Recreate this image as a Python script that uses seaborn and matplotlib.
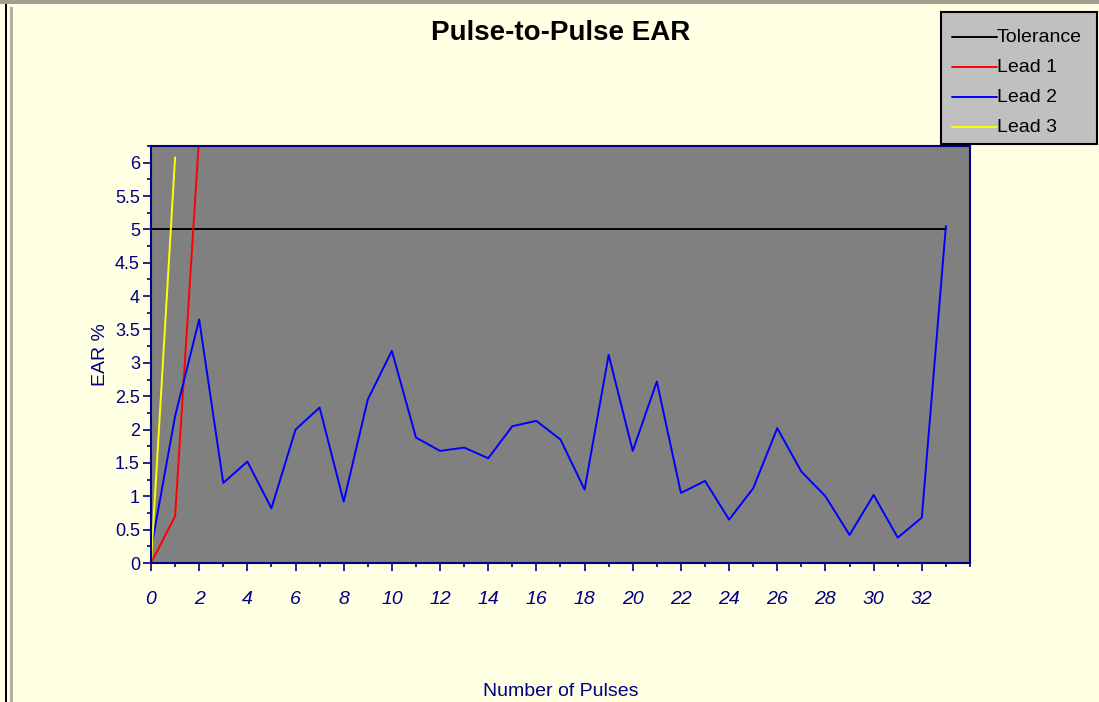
import numpy as np
import pandas as pd
import matplotlib.pyplot as plt
import seaborn as sns
from matplotlib.ticker import MultipleLocator
from matplotlib.patches import Rectangle

# Data

pulses_lead2 = list(range(0, 34))
ear_lead2 = [0.2, 2.2, 3.65, 1.2, 1.52, 0.82, 2.0, 2.33, 0.92, 2.45,
             3.18, 1.88, 1.68, 1.73, 1.57, 2.05, 2.13, 1.85, 1.1, 3.12,
             1.68, 2.72, 1.05, 1.23, 0.65, 1.12, 2.02, 1.37, 1.0, 0.42,
             1.02, 0.38, 0.68, 5.05]

pulses_lead1 = [0, 1, 2]
ear_lead1 = [0.0, 0.7, 6.4]

pulses_lead3 = [0, 1]
ear_lead3 = [0.0, 6.08]

tolerance_x = [0, 33]
tolerance_y = [5, 5]

navy = "#000080"
bg = "#FFFFE3"

df = pd.concat([
    pd.DataFrame({"x": tolerance_x, "y": tolerance_y, "series": "Tolerance"}),
    pd.DataFrame({"x": pulses_lead1, "y": ear_lead1, "series": "Lead 1"}),
    pd.DataFrame({"x": pulses_lead2, "y": ear_lead2, "series": "Lead 2"}),
    pd.DataFrame({"x": pulses_lead3, "y": ear_lead3, "series": "Lead 3"}),
])

palette = {"Tolerance": "#000000", "Lead 1": "#FF0000",
           "Lead 2": "#0000FF", "Lead 3": "#FFFF00"}

sns.set_style("white")
plt.rcParams['font.family'] = ['Liberation Sans', 'DejaVu Sans']

fig = plt.figure(figsize=(10.99, 7.02), dpi=100, facecolor=bg)
ax = fig.add_axes([0.1374, 0.198, 0.7452, 0.594])
ax.set_facecolor("#808080")

sns.lineplot(data=df, x="x", y="y", hue="series", palette=palette,
             sort=False, estimator=None, linewidth=1.4, ax=ax, legend=False)

ax.set_xlim(0, 34)
ax.set_ylim(0, 6.25)

ax.xaxis.set_major_locator(MultipleLocator(2))
ax.xaxis.set_minor_locator(MultipleLocator(1))
ax.yaxis.set_major_locator(MultipleLocator(0.5))
ax.yaxis.set_minor_locator(MultipleLocator(0.25))

ax.set_xticks(range(0, 33, 2))
ax.set_xticklabels([str(v) for v in range(0, 33, 2)], style="italic",
                   fontsize=14, color=navy)
yt = np.arange(0, 6.01, 0.5)
ax.set_yticks(yt)
ax.set_yticklabels([f"{v:g}" for v in yt], fontsize=13, color=navy)

ax.tick_params(axis="both", which="both", bottom=True, left=True,
               top=False, right=False)
ax.tick_params(axis="both", which="major", direction="out", length=6,
               width=1.2, color=navy, pad=2)
ax.tick_params(axis="x", which="major", pad=14)
ax.tick_params(axis="both", which="minor", direction="out", length=3,
               width=1.2, color=navy)

for s in ax.spines.values():
    s.set_color(navy)
    s.set_linewidth(1.5)

ax.set_xlabel("Number of Pulses", fontsize=14, color=navy, labelpad=54)
ax.set_ylabel("EAR %", fontsize=14, color=navy, labelpad=4)

fig.text(0.51, 0.953, "Pulse-to-Pulse EAR", ha="center", va="center",
         fontsize=20, fontweight="bold", color="black")

# Legend box
lx0, ly0, lx1, ly1 = 941 / 1099, 1 - 144 / 702, 1097 / 1099, 1 - 12 / 702
fig.patches.append(Rectangle((lx0, ly0), lx1 - lx0, ly1 - ly0,
                             transform=fig.transFigure, facecolor="#C0C0C0",
                             edgecolor="black", linewidth=1.5))
names = ["Tolerance", "Lead 1", "Lead 2", "Lead 3"]
for i, name in enumerate(names):
    yy = 1 - (37 + i * 30) / 702
    fig.lines.append(plt.Line2D([952 / 1099, 997 / 1099], [yy, yy],
                                transform=fig.transFigure,
                                color=palette[name], linewidth=1.4))
    fig.text(997 / 1099, yy, name, ha="left", va="center", fontsize=14,
             color="black")

# Window frame
fig.patches.append(Rectangle((5 / 1099, 0), 2 / 1099, 1, transform=fig.transFigure,
                             facecolor="black", edgecolor="none"))
fig.patches.append(Rectangle((0, 1 - 4 / 702), 1, 4 / 702, transform=fig.transFigure,
                             facecolor="#A0A090", edgecolor="none"))
fig.patches.append(Rectangle((10 / 1099, 0), 3 / 1099, 1 - 7 / 702,
                             transform=fig.transFigure,
                             facecolor="#B0B0A0", edgecolor="none"))

fig.savefig("out.png", dpi=100, facecolor=bg)
